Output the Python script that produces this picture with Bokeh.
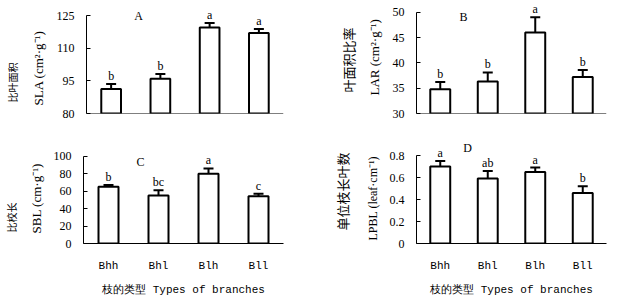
from bokeh.plotting import figure
from bokeh.models import (ColumnDataSource, FactorRange, Range1d, FixedTicker, Whisker,
                          TeeHead, Label, LabelSet, Title, Span)
from bokeh.layouts import column, row
from bokeh.embed import file_html
from bokeh.resources import INLINE

# ---------------- data ----------------
branch_types = ["Bhh", "Bhl", "Blh", "Bll"]

sla_mean = [91.3, 96.0, 119.5, 117.0]
sla_se = [2.3, 2.1, 2.1, 1.8]
sla_sig = ["b", "b", "a", "a"]
sla_ticks = [80, 95, 110, 125]

lar_mean = [34.8, 36.3, 46.0, 37.2]
lar_se = [1.4, 1.8, 3.0, 1.4]
lar_sig = ["b", "b", "a", "b"]
lar_ticks = [30, 35, 40, 45, 50]

sbl_mean = [65.0, 55.0, 80.0, 54.0]
sbl_se = [2.0, 6.0, 6.0, 3.0]
sbl_sig = ["b", "bc", "a", "c"]
sbl_ticks = [0, 20, 40, 60, 80, 100]

lpbl_mean = [0.70, 0.59, 0.65, 0.46]
lpbl_se = [0.05, 0.07, 0.04, 0.06]
lpbl_sig = ["a", "ab", "a", "b"]
lpbl_ticks = [0, 0.2, 0.4, 0.6, 0.8]

x_title = "枝的类型 Types of branches"

SERIF = "Liberation Serif"
MONO = "Liberation Mono"
CJK = "Noto Sans CJK SC"


def panel(means, ses, sigs, ticks, width, height, borders, top_tick_px, bar_w,
          tag, tag_pos, cjk_label, line2, ylab, show_x, overrides=None):
    lo_b, ri_b, to_b, bo_b = borders
    ystart, yend = ticks[0], ticks[-1]
    axis_bottom = height - bo_b
    px_per_unit = (axis_bottom - top_tick_px) / (yend - ystart)
    range_end = yend + (top_tick_px - to_b) / px_per_unit
    p = figure(x_range=FactorRange(*branch_types), y_range=Range1d(ystart, range_end),
               width=width, height=height, output_backend="svg", toolbar_location=None,
               title=None, min_border_left=lo_b, min_border_right=ri_b,
               min_border_top=to_b, min_border_bottom=bo_b)
    p.outline_line_color = None
    p.xgrid.grid_line_color = None
    p.ygrid.grid_line_color = None
    p.x_range.range_padding = 0

    src = ColumnDataSource(dict(
        cat=branch_types, val=means,
        up=[m + s for m, s in zip(means, ses)],
        lo=[m - s for m, s in zip(means, ses)],
        sig=sigs))
    p.vbar(x="cat", top="val", bottom=ystart, width=bar_w, source=src,
           fill_color="white", line_color="black", line_width=2)
    p.add_layout(Whisker(base="cat", upper="up", lower="lo", source=src,
                         line_color="black", line_width=2,
                         upper_head=TeeHead(size=10, line_width=2, line_color="black"),
                         lower_head=TeeHead(size=10, line_width=2, line_color="black")))
    p.add_layout(LabelSet(x="cat", y="up", text="sig", source=src, y_offset=1,
                          text_align="center", text_baseline="bottom",
                          text_font=SERIF, text_font_size="12px", text_color="black"))

    # y axis
    ya = p.yaxis[0]
    ya.bounds = (ystart, yend)
    ya.ticker = FixedTicker(ticks=ticks)
    ya.minor_tick_line_color = None
    ya.major_tick_in = 4
    ya.major_tick_out = 0
    ya.major_label_standoff = 12
    ya.major_label_text_font = SERIF
    ya.major_label_text_font_size = "12px"
    ya.major_label_text_color = "black"
    ya.axis_line_color = "black"
    ya.major_tick_line_color = "black"
    if overrides:
        ya.major_label_overrides = overrides

    # two-line y title: (standoff, offset, font size) for each line
    (so2, off2, fs2), (so1, off1, fs1) = ylab
    p.add_layout(Title(text=line2, align="left", text_font=SERIF,
                       text_font_size=fs2, text_font_style="normal",
                       text_color="black", standoff=so2, offset=off2), "left")
    p.add_layout(Title(text=cjk_label, align="left", text_font=CJK,
                       text_font_size=fs1, text_font_style="normal",
                       text_color="black", standoff=so1, offset=off1), "left")

    # x axis
    xa = p.xaxis[0]
    if show_x:
        xa.major_tick_in = 0
        xa.major_tick_out = 0
        xa.axis_line_color = "black"
        xa.major_label_standoff = show_x[0]
        xa.major_label_text_font = MONO
        xa.major_label_text_font_size = "11px"
        xa.major_label_text_color = "black"
        xa.axis_label = x_title
        xa.axis_label_standoff = show_x[1]
        xa.axis_label_text_font = MONO
        xa.axis_label_text_font_style = "normal"
        xa.axis_label_text_font_size = "11px"
        xa.axis_label_text_color = "black"
    else:
        # category axis without labels: only the base line is shown
        xa.visible = False
        p.add_layout(Span(location=ystart, dimension="width",
                          line_color="black", line_width=1))

    # panel tag (screen units inside the frame)
    p.add_layout(Label(x=tag_pos[0], y=tag_pos[1], x_units="screen", y_units="screen",
                       text=tag, text_font=SERIF, text_font_size="12px",
                       text_align="center", text_baseline="middle", text_color="black"))
    return p


# row 1: 141 px high, row 2: 162 px high; left column 310 px, right column 309 px
pA = panel(sla_mean, sla_se, sla_sig, sla_ticks, 310, 141, (81, 27, 2, 28), 15, 0.4,
           "A", (52, 98), "比叶面积", "SLA (cm²·g⁻¹)",
           ((15, 8, "13px"), (4, 11, "10px")), None)
pB = panel(lar_mean, lar_se, lar_sig, lar_ticks, 309, 141, (106, 13, 2, 28), 11.7, 0.42,
           "B", (47, 97), "叶面积比率", "LAR (cm²·g⁻¹)",
           ((15, 18, "13px"), (0, 21, "13px")), None)
pC = panel(sbl_mean, sbl_se, sbl_sig, sbl_ticks, 310, 162, (81, 27, 0, 60), 14.7, 0.4,
           "C", (57, 82), "比校长", "SBL (cm·g⁻¹)",
           ((13, 10, "13px"), (3, 11, "10px")), (16, 9))
pD = panel(lpbl_mean, lpbl_se, lpbl_sig, lpbl_ticks, 309, 162, (106, 13, 0, 60), 14, 0.42,
           "D", (51, 96), "单位枝长叶数", "LPBL (leaf·cm⁻¹)",
           ((13, 3, "12px"), (11, 13, "13px")), (16, 9),
           overrides={0: "0"})

layout = column(row(pA, pB), row(pC, pD))
open("out.html", "w").write(file_html(layout, INLINE))
